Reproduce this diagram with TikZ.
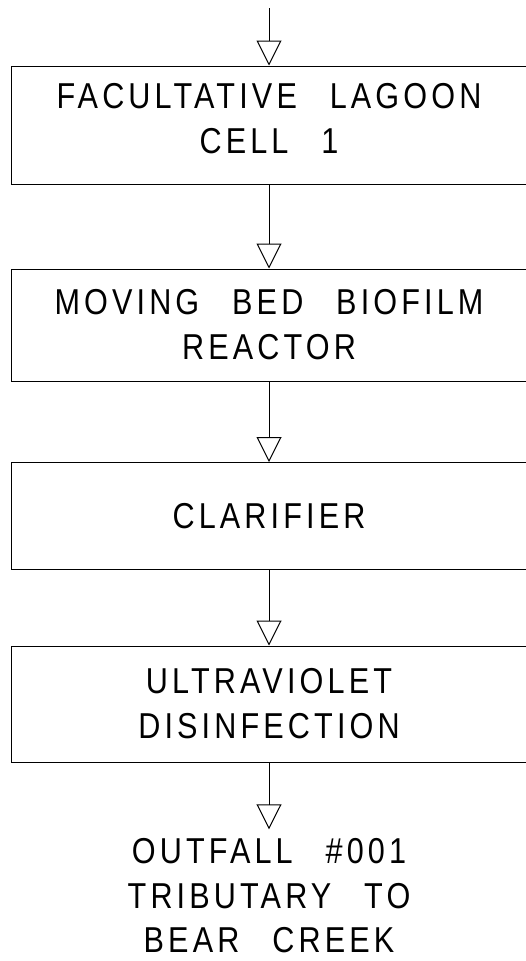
\documentclass[tikz,border=0pt]{standalone}
\usepackage{fontspec}
\setmainfont{Liberation Sans}[LetterSpace=11.5,FakeStretch=0.85,WordSpace=2.6]
\usetikzlibrary{arrows.meta,positioning}

\begin{document}
\begin{tikzpicture}[x=1pt,y=1pt,node distance=190pt,on grid,
        line width=1pt,>={Triangle[open,width=25pt,length=25pt]}]
        \tikzstyle{process}=[draw, rectangle, minimum width=516pt, align=center,
            font=\fontsize{36}{45}\selectfont]
        \tikzstyle{flow}=[->]

        \useasboundingbox (0,0) rectangle (526,-961);

        \coordinate (in) at (269,-8);
        \node[process, minimum height=118pt, text depth=14pt] (cell)  at (269,-125)   {FACULTATIVE LAGOON\\CELL 1};
        \node[process, minimum height=112pt] (mbbr)  [below=200pt of cell] {MOVING BED BIOFILM\\REACTOR};
        \node[process, minimum height=107pt] (clar)  [below=191pt of mbbr] {CLARIFIER};
        \node[process, minimum height=116pt] (uv)    [below=188pt of clar] {ULTRAVIOLET\\DISINFECTION};
        \node[align=center, font=\fontsize{36}{44.5}\selectfont, inner xsep=0pt, inner ysep=9pt]
                                             (out)   [below=192pt of uv]   {OUTFALL \#001\\TRIBUTARY TO\\BEAR CREEK};

        \draw[flow] (in)   -- (cell);
        \draw[flow] (cell) -- (mbbr);
        \draw[flow] (mbbr) -- (clar);
        \draw[flow] (clar) -- (uv);
        \draw[flow] (uv)   -- (out);
    \end{tikzpicture}
\end{document}
